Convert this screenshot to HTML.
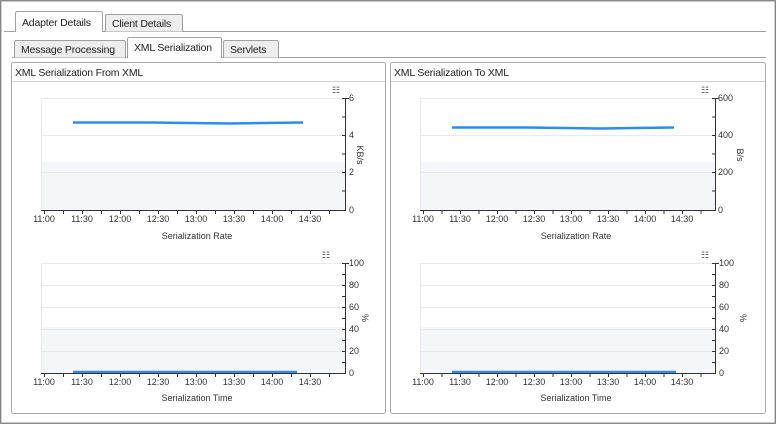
<!DOCTYPE html>
<html><head><meta charset="utf-8"><style>
body{margin:0;width:776px;height:424px;overflow:hidden;background:#fff;font-family:"Liberation Sans",sans-serif}
svg text{font-family:"Liberation Sans",sans-serif}
.tab{font-size:10.5px;letter-spacing:-0.2px}
</style></head><body>
<svg width="776" height="424" viewBox="0 0 776 424" xmlns="http://www.w3.org/2000/svg">
<rect x="0.5" y="0.5" width="775" height="423" fill="#fff" stroke="#8a8a8a"/>
<rect x="1.5" y="1.5" width="773" height="421" fill="none" stroke="#c8c8c8"/>
<!-- top tabs -->
<line x1="4" y1="31.5" x2="766" y2="31.5" stroke="#a0a0a0"/>
<path d="M15.5 31.5V13.5Q15.5 11.5 17.5 11.5H100.5Q102.5 11.5 102.5 13.5V31.5" fill="#fff" stroke="#a0a0a0"/>
<path d="M105.5 31.5V15.5Q105.5 14.5 107.5 14.5H180.5Q182.5 14.5 182.5 16.5V31.5" fill="#eee" stroke="#a0a0a0"/>
<line x1="16" y1="31.5" x2="102" y2="31.5" stroke="#fff"/>
<text class="tab" x="22" y="26" fill="#222">Adapter Details</text>
<text class="tab" x="112" y="27" fill="#222">Client Details</text>
<!-- second tabs -->
<line x1="12" y1="57.5" x2="766" y2="57.5" stroke="#a0a0a0"/>
<path d="M14.5 57.5V42.5Q14.5 40.5 16.5 40.5H123.5Q125.5 40.5 125.5 42.5V57.5" fill="#eee" stroke="#a0a0a0"/>
<path d="M127.5 57.5V39.5Q127.5 37.5 129.5 37.5H219.5Q221.5 37.5 221.5 39.5V57.5" fill="#fff" stroke="#a0a0a0"/>
<path d="M223.5 57.5V42.5Q223.5 40.5 225.5 40.5H276.5Q278.5 40.5 278.5 42.5V57.5" fill="#eee" stroke="#a0a0a0"/>
<line x1="128" y1="57.5" x2="221" y2="57.5" stroke="#fff"/>
<text class="tab" x="21" y="53" fill="#222">Message Processing</text>
<text class="tab" x="134" y="51" fill="#222">XML Serialization</text>
<text class="tab" x="230" y="53" fill="#222">Servlets</text>
<!-- panels -->
<rect x="11.5" y="62.5" width="374" height="351" rx="2" fill="#fff" stroke="#a8a8a8"/>
<line x1="12" y1="81.5" x2="385" y2="81.5" stroke="#d0d0d0"/>
<text class="tab" x="15" y="76" fill="#222">XML Serialization From XML</text>
<rect x="390.5" y="62.5" width="375" height="351" rx="2" fill="#fff" stroke="#a8a8a8"/>
<line x1="391" y1="81.5" x2="765" y2="81.5" stroke="#d0d0d0"/>
<text class="tab" x="394" y="76" fill="#222">XML Serialization To XML</text>

<!-- ===== LEFT TOP ===== -->
<rect x="41" y="162" width="304" height="48" fill="#f5f6f9"/>
<g stroke="#e9e9ee"><line x1="41" y1="98.5" x2="345" y2="98.5"/><line x1="41" y1="135.5" x2="345" y2="135.5"/><line x1="41" y1="172.5" x2="345" y2="172.5"/><line x1="41.5" y1="98" x2="41.5" y2="210"/></g>
<polyline points="73,122.5 150,122.5 230,123.5 303,122.5" fill="none" stroke="#2e8cf0" stroke-width="2.5"/>
<g stroke="#333"><line x1="41" y1="210.5" x2="346" y2="210.5"/><line x1="345.5" y1="98" x2="345.5" y2="211"/><line x1="342" y1="98.5" x2="349" y2="98.5"/>
<path d="M44.5 210v4M63.5 210v4M82.5 210v4M101.5 210v4M120.5 210v4M139.5 210v4M158.5 210v4M177.5 210v4M196.5 210v4M215.5 210v4M234.5 210v4M253.5 210v4M272.5 210v4M291.5 210v4M310.5 210v4M329.5 210v4"/>
<path d="M342 117h4M342 135.5h4M342 154h4M342 172.5h4M342 191h4"/></g>
<g font-size="9" fill="#333" text-anchor="middle"><text x="44" y="222">11:00</text><text x="82" y="222">11:30</text><text x="120" y="222">12:00</text><text x="158" y="222">12:30</text><text x="196" y="222">13:00</text><text x="234" y="222">13:30</text><text x="272" y="222">14:00</text><text x="310" y="222">14:30</text></g>
<g font-size="9" fill="#333"><text x="349" y="101">6</text><text x="349" y="138">4</text><text x="349" y="175">2</text><text x="349" y="213">0</text></g>
<text transform="translate(357,155) rotate(90)" font-size="9" fill="#333" text-anchor="middle">KB/s</text>
<text x="197" y="239" font-size="9" fill="#333" text-anchor="middle">Serialization Rate</text>
<text x="332" y="93" font-size="9" fill="#555">☷</text>

<!-- ===== LEFT BOTTOM ===== -->
<rect x="41" y="327" width="304" height="46" fill="#f5f6f9"/>
<g stroke="#e9e9ee"><line x1="41" y1="263.5" x2="345" y2="263.5"/><line x1="41" y1="285.5" x2="345" y2="285.5"/><line x1="41" y1="307.5" x2="345" y2="307.5"/><line x1="41" y1="329.5" x2="345" y2="329.5"/><line x1="41" y1="351.5" x2="345" y2="351.5"/><line x1="41.5" y1="263" x2="41.5" y2="373"/></g>
<line x1="73" y1="372" x2="297" y2="372" stroke="#2e8cf0" stroke-width="2.5"/>
<g stroke="#333"><line x1="41" y1="373.5" x2="346" y2="373.5"/><line x1="345.5" y1="263" x2="345.5" y2="374"/><line x1="342" y1="263.5" x2="349" y2="263.5"/>
<path d="M44.5 373v4M63.5 373v4M82.5 373v4M101.5 373v4M120.5 373v4M139.5 373v4M158.5 373v4M177.5 373v4M196.5 373v4M215.5 373v4M234.5 373v4M253.5 373v4M272.5 373v4M291.5 373v4M310.5 373v4M329.5 373v4"/>
<path d="M342 274.5h4M342 285.5h4M342 296.5h4M342 307.5h4M342 318.5h4M342 329.5h4M342 340.5h4M342 351.5h4M342 362.5h4"/></g>
<g font-size="9" fill="#333" text-anchor="middle"><text x="44" y="385">11:00</text><text x="82" y="385">11:30</text><text x="120" y="385">12:00</text><text x="158" y="385">12:30</text><text x="196" y="385">13:00</text><text x="234" y="385">13:30</text><text x="272" y="385">14:00</text><text x="310" y="385">14:30</text></g>
<g font-size="9" fill="#333"><text x="349" y="266">100</text><text x="349" y="288">80</text><text x="349" y="310">60</text><text x="349" y="332">40</text><text x="349" y="354">20</text><text x="349" y="376">0</text></g>
<text transform="translate(362,318) rotate(90)" font-size="9" fill="#333" text-anchor="middle">%</text>
<text x="197" y="401" font-size="9" fill="#333" text-anchor="middle">Serialization Time</text>
<text x="322" y="258" font-size="9" fill="#555">☷</text>

<!-- ===== RIGHT TOP ===== -->
<rect x="420" y="162" width="295" height="48" fill="#f5f6f9"/>
<g stroke="#e9e9ee"><line x1="420" y1="98.5" x2="715" y2="98.5"/><line x1="420" y1="135.5" x2="715" y2="135.5"/><line x1="420" y1="172.5" x2="715" y2="172.5"/><line x1="420.5" y1="98" x2="420.5" y2="210"/></g>
<polyline points="452,127.5 528,127.5 600,128.5 674,127.5" fill="none" stroke="#2e8cf0" stroke-width="2.5"/>
<g stroke="#333"><line x1="420" y1="210.5" x2="716" y2="210.5"/><line x1="715.5" y1="98" x2="715.5" y2="211"/><line x1="712" y1="98.5" x2="719" y2="98.5"/>
<path d="M423.5 210v4M442 210v4M460.5 210v4M479 210v4M497.5 210v4M516 210v4M534.5 210v4M553 210v4M571.5 210v4M590 210v4M608.5 210v4M627 210v4M645.5 210v4M664 210v4M682.5 210v4M701 210v4"/>
<path d="M712 117h4M712 135.5h4M712 154h4M712 172.5h4M712 191h4"/></g>
<g font-size="9" fill="#333" text-anchor="middle"><text x="423" y="222">11:00</text><text x="460" y="222">11:30</text><text x="497" y="222">12:00</text><text x="534" y="222">12:30</text><text x="571" y="222">13:00</text><text x="608" y="222">13:30</text><text x="645" y="222">14:00</text><text x="682" y="222">14:30</text></g>
<g font-size="9" fill="#333"><text x="718" y="101">600</text><text x="718" y="138">400</text><text x="718" y="175">200</text><text x="718" y="213">0</text></g>
<text transform="translate(737,155) rotate(90)" font-size="9" fill="#333" text-anchor="middle">B/s</text>
<text x="576" y="239" font-size="9" fill="#333" text-anchor="middle">Serialization Rate</text>
<text x="701" y="93" font-size="9" fill="#555">☷</text>

<!-- ===== RIGHT BOTTOM ===== -->
<rect x="420" y="327" width="295" height="46" fill="#f5f6f9"/>
<g stroke="#e9e9ee"><line x1="420" y1="263.5" x2="715" y2="263.5"/><line x1="420" y1="285.5" x2="715" y2="285.5"/><line x1="420" y1="307.5" x2="715" y2="307.5"/><line x1="420" y1="329.5" x2="715" y2="329.5"/><line x1="420" y1="351.5" x2="715" y2="351.5"/><line x1="420.5" y1="263" x2="420.5" y2="373"/></g>
<line x1="452" y1="372" x2="676" y2="372" stroke="#2e8cf0" stroke-width="2.5"/>
<g stroke="#333"><line x1="420" y1="373.5" x2="716" y2="373.5"/><line x1="715.5" y1="263" x2="715.5" y2="374"/><line x1="712" y1="263.5" x2="719" y2="263.5"/>
<path d="M423.5 373v4M442 373v4M460.5 373v4M479 373v4M497.5 373v4M516 373v4M534.5 373v4M553 373v4M571.5 373v4M590 373v4M608.5 373v4M627 373v4M645.5 373v4M664 373v4M682.5 373v4M701 373v4"/>
<path d="M712 274.5h4M712 285.5h4M712 296.5h4M712 307.5h4M712 318.5h4M712 329.5h4M712 340.5h4M712 351.5h4M712 362.5h4"/></g>
<g font-size="9" fill="#333" text-anchor="middle"><text x="423" y="385">11:00</text><text x="460" y="385">11:30</text><text x="497" y="385">12:00</text><text x="534" y="385">12:30</text><text x="571" y="385">13:00</text><text x="608" y="385">13:30</text><text x="645" y="385">14:00</text><text x="682" y="385">14:30</text></g>
<g font-size="9" fill="#333"><text x="719" y="266">100</text><text x="719" y="288">80</text><text x="719" y="310">60</text><text x="719" y="332">40</text><text x="719" y="354">20</text><text x="719" y="376">0</text></g>
<text transform="translate(740,318) rotate(90)" font-size="9" fill="#333" text-anchor="middle">%</text>
<text x="576" y="401" font-size="9" fill="#333" text-anchor="middle">Serialization Time</text>
<text x="701" y="258" font-size="9" fill="#555">☷</text>
</svg>
</body></html>
